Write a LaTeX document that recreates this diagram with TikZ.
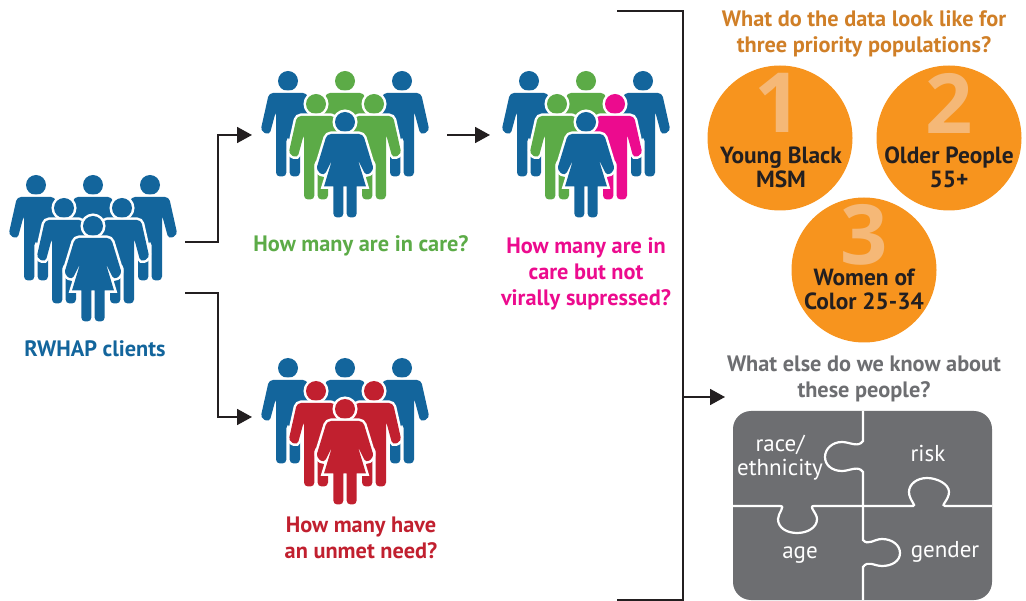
\documentclass[tikz,border=0pt]{standalone}
\usepackage{fontspec}
\setmainfont{PT Sans}
\newfontfamily\numfont{Open Sans}
\usetikzlibrary{arrows.meta}
\definecolor{hblue}{HTML}{13659C}
\definecolor{hgreen}{HTML}{5CAB47}
\definecolor{hpink}{HTML}{EC0B8E}
\definecolor{hred}{HTML}{C1202F}
\definecolor{horange}{HTML}{F7941E}
\definecolor{htitle}{HTML}{D07F27}
\definecolor{hnum}{HTML}{F5B877}
\definecolor{hgray}{HTML}{6D6E71}
\definecolor{hink}{HTML}{231F20}
\tikzset{
  link/.style={line width=1.8pt,draw=hink},
  tip/.style={link,-{Stealth[length=15pt,width=16pt,inset=0pt]}},
  cutout/.style={preaction={draw=white,line width=5pt}},
  lab/.style={font=\bfseries\fontsize{22.3}{26}\selectfont,align=center,inner sep=0pt},
  disc/.style={circle,fill=horange,minimum size=145pt,inner sep=0pt},
  bignum/.style={font=\numfont\bfseries\fontsize{83}{83}\selectfont,text=hnum,inner sep=0pt},
  disclab/.style={font=\bfseries\fontsize{23.4}{24}\selectfont,text=hink,align=center,inner sep=0pt},
  piece/.style={font=\fontsize{23}{24}\selectfont,text=white,align=center,inner sep=0pt},
}
% man: x, y of the head, colour
\newcommand{\man}[3]{
  \fill[#3,cutout] (#1,#2) circle (10);
  \fill[#3,cutout,shift={(#1,#2)},rounded corners=4]
    (-19,12) -- (-27.5,50) -- (-18.5,54) -- (-12,30) -- (-12,95.5) -- (-1.6,95.5) -- (-1.6,56)
    -- (1.6,56) -- (1.6,95.5) -- (12,95.5) -- (12,30) -- (18.5,54) -- (27.5,50) -- (19,12) -- cycle;
}
% woman: x, y of the head, colour
\newcommand{\woman}[3]{
  \fill[#3,cutout] (#1,#2) circle (10);
  \fill[#3,cutout,shift={(#1,#2)},rounded corners=4]
    (-18,12) -- (-29,48) -- (-21,54) [rounded corners=1] -- (-13,38) [sharp corners] -- (-21,64.5) -- (-11.7,64.5)
    [rounded corners=4] -- (-11.7,95.5) -- (-1.6,95.5) [sharp corners] -- (-1.6,64.5) -- (1.6,64.5)
    [rounded corners=4] -- (1.6,95.5) -- (11.7,95.5) [sharp corners] -- (11.7,64.5) -- (21,64.5)
    -- (13,38) [rounded corners=4] -- (21,54) -- (29,48) -- (18,12) -- cycle;
}
% crowd: x, y of the woman's head, back row (3), middle row (2), woman
\newcommand{\crowd}[8]{
  \man{\numexpr#1-57\relax}{\numexpr#2-41\relax}{#3}
  \man{#1}{\numexpr#2-41\relax}{#4}
  \man{\numexpr#1+57\relax}{\numexpr#2-41\relax}{#5}
  \man{\numexpr#1-29\relax}{\numexpr#2-18\relax}{#6}
  \man{\numexpr#1+29\relax}{\numexpr#2-18\relax}{#7}
  \woman{#1}{#2}{#8}
}
\begin{document}
\begin{tikzpicture}[x=1pt,y=-1pt]
\useasboundingbox (0,0) rectangle (1026,601);
% crowds
\crowd{93}{226}{hblue}{hblue}{hblue}{hblue}{hblue}{hblue}
\crowd{345}{122}{hblue}{hgreen}{hblue}{hgreen}{hgreen}{hblue}
\crowd{586}{122}{hblue}{hgreen}{hblue}{hgreen}{hpink}{hblue}
\crowd{345}{409}{hblue}{hblue}{hblue}{hred}{hred}{hred}
% labels under the crowds
\node[lab,text=hblue] (clients) at (95,348.5) {RWHAP clients};
\node[lab,text=hgreen] (incare) at (361,246) {How many are in care?};
\node[lab,text=hpink] (notsupp) at (586,274) {How many are in\\care but not\\virally supressed?};
\node[lab,text=hred] (unmet) at (361,537.5) {How many have\\an unmet need?};
% connector ends
\coordinate (upstart) at (185,242);
\coordinate (upbend) at (218,242);
\coordinate (upturn) at (218,135);
\coordinate (upend) at (252,135);
\coordinate (lowstart) at (185,293);
\coordinate (lowbend) at (218,293);
\coordinate (lowturn) at (218,417);
\coordinate (lowend) at (252,417);
\coordinate (midstart) at (447,135);
\coordinate (midend) at (490,135);
\coordinate (bractop) at (617,11);
\coordinate (bracright) at (683,11);
\coordinate (bracdown) at (683,600);
\coordinate (bracbot) at (617,600);
\coordinate (bracmid) at (683,397);
\coordinate (bracend) at (725,397);
% connectors
\draw[tip] (upstart) -- (upbend) -- (upturn) -- (upend);
\draw[tip] (lowstart) -- (lowbend) -- (lowturn) -- (lowend);
\draw[tip] (midstart) -- (midend);
\draw[link] (bractop) -- (bracright) -- (bracdown) -- (bracbot);
\draw[tip] (bracmid) -- (bracend);
% priority populations
\node[lab,text=htitle] (datatitle) at (864,33.5) {What do the data look like for\\three priority populations?};
\node[disc] (disca) at (780,138) {};
\node[disc] (discb) at (949,138) {};
\node[disc] (discc) at (864,270) {};
\node[bignum] (numa) at (778.5,103) {1};
\node[bignum] (numb) at (949,103) {2};
\node[bignum] (numc) at (864,235) {3};
\node[disclab] (laba) at (781,167) {Young Black\\MSM};
\node[disclab] (labb) at (949,167) {Older People\\55+};
\node[disclab] (labc) at (864,289) {Women of\\Color 25-34};
% puzzle
\node[lab,text=hgray] (elsetitle) at (864,378.5) {What else do we know about\\these people?};
\fill[hgray,rounded corners=18] (733,411) rectangle (992,600);
\draw[white,line width=2.2pt] (863,411) -- (863,441)
  .. controls (858,448) and (850,442) .. (842,442)
  .. controls (832,442) and (825,449) .. (825,457)
  .. controls (825,465) and (832,471) .. (842,471)
  .. controls (850,471) and (858,465) .. (863,472) -- (863,540)
  .. controls (868,546) and (874,539) .. (882,539)
  .. controls (892,539) and (900,545) .. (900,553)
  .. controls (900,561) and (892,566) .. (882,566)
  .. controls (874,566) and (868,560) .. (863,567) -- (863,600);
\draw[white,line width=2.2pt] (733,506) -- (780,506)
  .. controls (786,506) and (778,513) .. (778,519)
  .. controls (778,528) and (787,533) .. (797,533)
  .. controls (807,533) and (817,528) .. (817,519)
  .. controls (817,513) and (808,506) .. (814,506) -- (913,506)
  .. controls (917,506) and (909,500) .. (909,492)
  .. controls (909,484) and (917,478) .. (927,478)
  .. controls (937,478) and (949,484) .. (949,492)
  .. controls (949,500) and (940,506) .. (945,506) -- (992,506);
\node[piece] (race) at (780,457.5) {race/\\ethnicity};
\node[piece] (risk) at (928,453) {risk};
\node[piece] (age) at (800,555) {age};
\node[piece] (gender) at (945,552) {gender};
\end{tikzpicture}
\end{document}
